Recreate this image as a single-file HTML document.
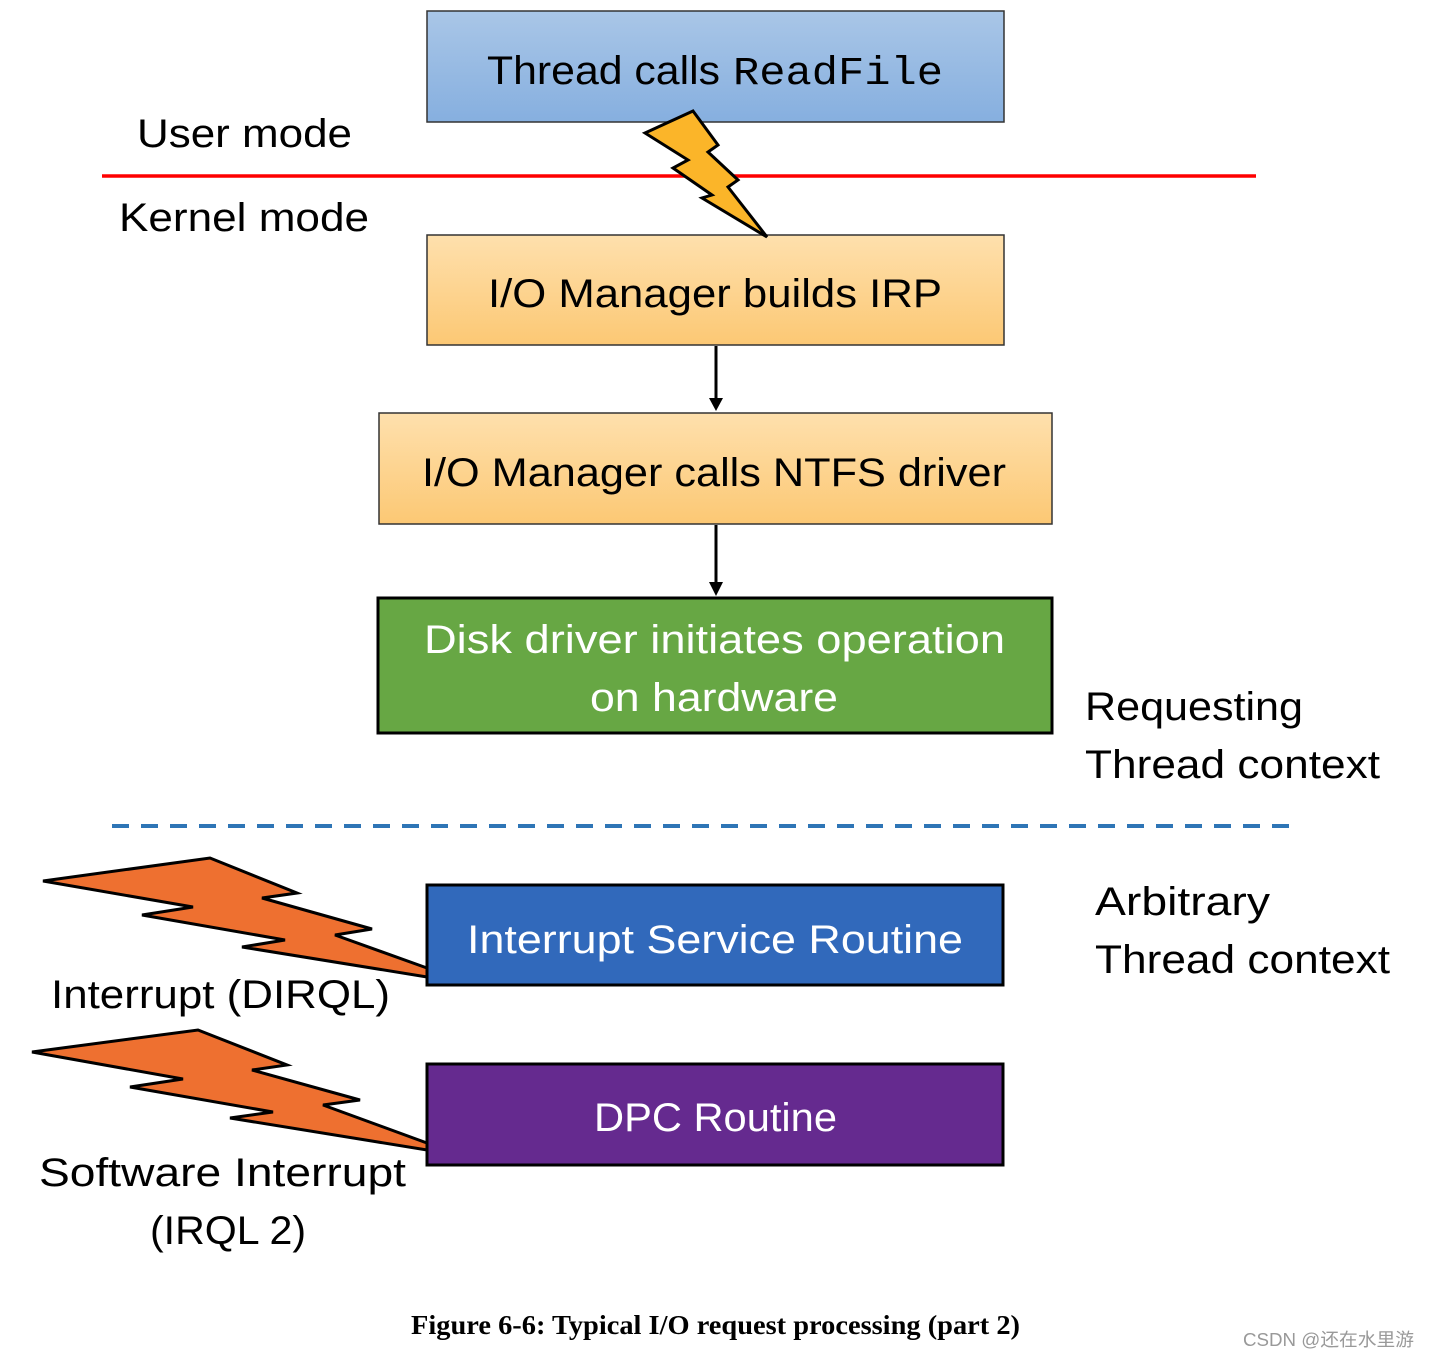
<!DOCTYPE html>
<html><head><meta charset="utf-8"><style>html,body{margin:0;padding:0;background:#fff}svg{display:block}</style></head><body>
<svg width="1430" height="1358" viewBox="0 0 1430 1358" xmlns="http://www.w3.org/2000/svg" font-family="Liberation Sans, sans-serif">
<defs>
<linearGradient id="gb" x1="0" y1="0" x2="0" y2="1"><stop offset="0" stop-color="#a9c6e7"/><stop offset="1" stop-color="#86afdf"/></linearGradient>
<linearGradient id="go" x1="0" y1="0" x2="0" y2="1"><stop offset="0" stop-color="#fee0ad"/><stop offset="1" stop-color="#fcc874"/></linearGradient>
</defs>
<rect x="427" y="11" width="577" height="111" fill="url(#gb)" stroke="#333" stroke-width="1.5"/>
<text x="487" y="84" font-size="40" textLength="233" lengthAdjust="spacingAndGlyphs">Thread calls</text>
<text x="733" y="84" font-size="40" font-family="Liberation Mono, monospace" textLength="210" lengthAdjust="spacingAndGlyphs">ReadFile</text>
<line x1="102" y1="176" x2="1256" y2="176" stroke="#f00" stroke-width="3.5"/>
<text x="137" y="147" font-size="40" textLength="215" lengthAdjust="spacingAndGlyphs">User mode</text>
<text x="119" y="231" font-size="40" textLength="250" lengthAdjust="spacingAndGlyphs">Kernel mode</text>
<rect x="427" y="235" width="577" height="110" fill="url(#go)" stroke="#333" stroke-width="1.5"/>
<text x="488" y="307" font-size="40" textLength="454" lengthAdjust="spacingAndGlyphs">I/O Manager builds IRP</text>
<polygon points="645,133 693,111 718,145 708,152 738,180 728,187 767,237 702,198 712,195 673,168 688,160" fill="#fbb529" stroke="#000" stroke-width="3" stroke-linejoin="miter"/>
<line x1="716" y1="346" x2="716" y2="400" stroke="#000" stroke-width="3"/>
<polygon points="709,398 723,398 716,411" fill="#000"/>
<rect x="379" y="413" width="673" height="111" fill="url(#go)" stroke="#333" stroke-width="1.5"/>
<text x="422" y="486" font-size="40" textLength="584" lengthAdjust="spacingAndGlyphs">I/O Manager calls NTFS driver</text>
<line x1="716" y1="525" x2="716" y2="584" stroke="#000" stroke-width="3"/>
<polygon points="709,582 723,582 716,596" fill="#000"/>
<rect x="378" y="598" width="674" height="135" fill="#67a744" stroke="#000" stroke-width="3"/>
<text x="424" y="653" font-size="40" fill="#fff" textLength="581" lengthAdjust="spacingAndGlyphs">Disk driver initiates operation</text>
<text x="590" y="711" font-size="40" fill="#fff" textLength="248" lengthAdjust="spacingAndGlyphs">on hardware</text>
<text x="1085" y="720" font-size="40" textLength="218" lengthAdjust="spacingAndGlyphs">Requesting</text>
<text x="1085" y="778" font-size="40" textLength="295" lengthAdjust="spacingAndGlyphs">Thread context</text>
<line x1="112" y1="826" x2="1297" y2="826" stroke="#2e75b6" stroke-width="4" stroke-dasharray="17,12"/>
<text x="1095" y="915" font-size="40" textLength="175" lengthAdjust="spacingAndGlyphs">Arbitrary</text>
<text x="1095" y="973" font-size="40" textLength="295" lengthAdjust="spacingAndGlyphs">Thread context</text>
<rect x="427" y="885" width="576" height="100" fill="#3169bb" stroke="#000" stroke-width="3"/>
<text x="467" y="953" font-size="40" fill="#fff" textLength="496" lengthAdjust="spacingAndGlyphs">Interrupt Service Routine</text>
<rect x="427" y="1064" width="576" height="101" fill="#652a8f" stroke="#000" stroke-width="3"/>
<text x="594" y="1131" font-size="40" fill="#fff" textLength="243" lengthAdjust="spacingAndGlyphs">DPC Routine</text>
<polygon points="43,881 210,858 297,893 262,898 372,929 335,935 427,968 427,977 242,947 285,940 142,915 193,907" fill="#ee7030" stroke="#000" stroke-width="3"/>
<polygon points="32,1052 198,1030 287,1065 252,1070 360,1100 323,1105 427,1143 427,1150 230,1118 273,1112 130,1087 183,1079" fill="#ee7030" stroke="#000" stroke-width="3"/>
<text x="51" y="1008" font-size="40" textLength="339" lengthAdjust="spacingAndGlyphs">Interrupt (DIRQL)</text>
<text x="39" y="1186" font-size="40" textLength="367" lengthAdjust="spacingAndGlyphs">Software Interrupt</text>
<text x="150" y="1244" font-size="40" textLength="156" lengthAdjust="spacingAndGlyphs">(IRQL 2)</text>
<text x="411" y="1334" font-size="27" font-weight="bold" font-family="Liberation Serif, serif" textLength="609" lengthAdjust="spacingAndGlyphs">Figure 6-6: Typical I/O request processing (part 2)</text>
<text x="1243" y="1346" font-size="18" fill="#999" font-family="Liberation Sans, 'Noto Sans CJK SC', sans-serif" textLength="171" lengthAdjust="spacingAndGlyphs">CSDN @还在水里游</text>
</svg>
</body></html>
